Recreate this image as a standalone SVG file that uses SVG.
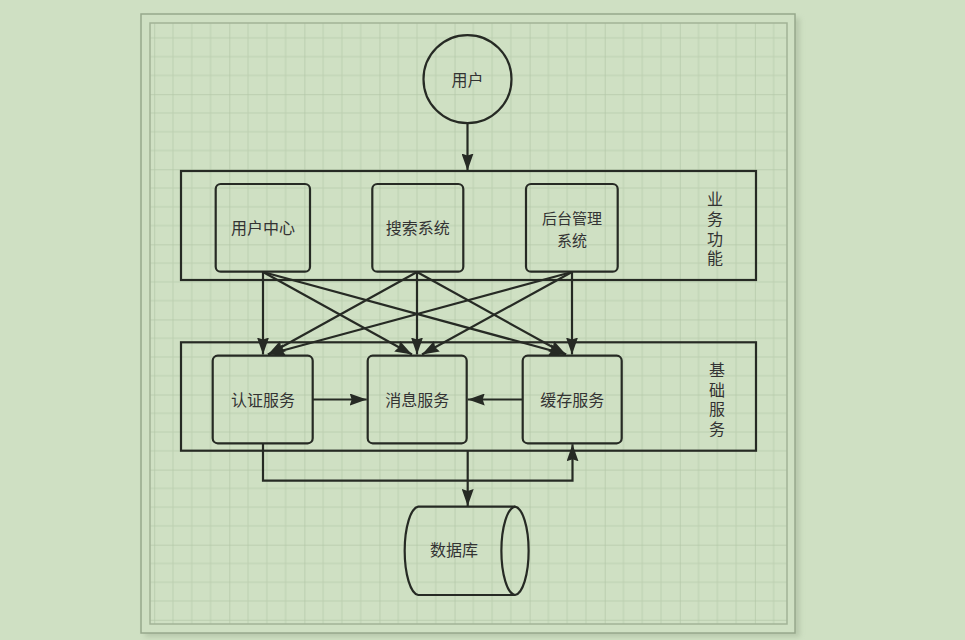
<svg xmlns="http://www.w3.org/2000/svg" width="965" height="640" viewBox="0 0 965 640">
<style>
.box{fill:none;stroke:#262a24;stroke-width:2.2}
.cont{fill:none;stroke:#262a24;stroke-width:2.2}
.edge{fill:none;stroke:#262a24;stroke-width:2.2}
.lbl{font-family:"Noto Sans CJK SC","Noto Sans",sans-serif;font-size:16px;fill:#333;text-anchor:middle}
.vlbl{font-family:"Noto Sans CJK SC","Noto Sans",sans-serif;font-size:16px;fill:#333;text-anchor:start;writing-mode:vertical-rl;letter-spacing:3.7px}
</style>
<defs>
<marker id="arr" markerUnits="userSpaceOnUse" viewBox="0 0 17 12" markerWidth="17" markerHeight="12" refX="17" refY="6" orient="auto">
<path d="M0,0 L17,6 L0,12 L2,6 Z" fill="#262a24"/>
</marker>
<pattern id="grid" patternUnits="userSpaceOnUse" x="229.3" y="94.2" width="75.08" height="75.08">
<rect x="18.27" y="0" width="1" height="75.08" fill="#bccfb0"/>
<rect x="37.04" y="0" width="1" height="75.08" fill="#bccfb0"/>
<rect x="55.81" y="0" width="1" height="75.08" fill="#bccfb0"/>
<rect x="0" y="18.27" width="75.08" height="1" fill="#bccfb0"/>
<rect x="0" y="37.04" width="75.08" height="1" fill="#bccfb0"/>
<rect x="0" y="55.81" width="75.08" height="1" fill="#bccfb0"/>
<rect x="-0.5" y="0" width="1.2" height="75.08" fill="#b3c7a7"/>
<rect x="0" y="-0.5" width="75.08" height="1.2" fill="#b3c7a7"/>
</pattern>
<filter id="sh" x="-5%" y="-5%" width="110%" height="110%"><feGaussianBlur stdDeviation="2.5"/></filter>
</defs>
<rect x="0" y="0" width="965" height="640" fill="#cfe0c3"/>
<g id="paper">
<rect x="145" y="18" width="655" height="619" fill="#a9ba9e" opacity="0.6" filter="url(#sh)"/>
<rect x="141" y="14" width="654" height="619" fill="#cfe0c3" stroke="#97a88c" stroke-width="1.5"/>
<rect x="150" y="23" width="637" height="601" fill="url(#grid)" stroke="#a2b397" stroke-width="1.5"/>
</g>
<g id="user">
<circle cx="467.5" cy="79.2" r="44" class="box"/>
<text class="lbl" x="467.5" y="85.5">用户</text>
</g>
<g id="biz-container">
<rect x="181" y="171" width="575" height="109" class="cont"/>
<text class="vlbl" x="715" y="191.3">业务功能</text>
</g>
<g id="user-center">
<rect x="215.7" y="184" width="94.3" height="87.7" rx="5" class="box"/>
<text class="lbl" x="263" y="233.8">用户中心</text>
</g>
<g id="search">
<rect x="372.3" y="184" width="91" height="87.7" rx="5" class="box"/>
<text class="lbl" x="417.8" y="233.8">搜索系统</text>
</g>
<g id="admin">
<rect x="526" y="184" width="91.7" height="87.7" rx="5" class="box"/>
<text class="lbl" style="font-size:15px"><tspan x="572" y="223.8">后台管理</tspan><tspan x="572" y="245.6">系统</tspan></text>
</g>
<g id="base-container">
<rect x="181" y="342.3" width="575" height="108.4" class="cont"/>
<text class="vlbl" x="717" y="362">基础服务</text>
</g>
<g id="auth">
<rect x="212.7" y="355.7" width="100" height="87.6" rx="5" class="box"/>
<text class="lbl" x="263" y="405.5">认证服务</text>
</g>
<g id="msg">
<rect x="367.7" y="355.7" width="99" height="87.6" rx="5" class="box"/>
<text class="lbl" x="417.2" y="405.5">消息服务</text>
</g>
<g id="cache">
<rect x="522.7" y="355.7" width="99" height="87.6" rx="5" class="box"/>
<text class="lbl" x="572.2" y="405.5">缓存服务</text>
</g>
<g id="database">
<path d="M418.3,506.7 L515,506.7 A14.3,44.2 0 0 1 515,595 L418.3,595 A14.3,44.2 0 0 1 418.3,506.7 Z" class="box"/>
<path d="M515,506.7 A14.3,44.2 0 0 0 515,595" class="box"/>
<text class="lbl" x="454" y="556.3">数据库</text>
</g>
<g id="connectors" class="edge">
<path d="M467.5,123.3 V170.5" marker-end="url(#arr)"/>
<path d="M263,272 V354.5" marker-end="url(#arr)"/>
<path d="M417,272 V354.5" marker-end="url(#arr)"/>
<path d="M572,272 V354.5" marker-end="url(#arr)"/>
<path d="M263,272 L412,354.5" marker-end="url(#arr)"/>
<path d="M263,272 L566,354.5" marker-end="url(#arr)"/>
<path d="M417,272 L268,354.5" marker-end="url(#arr)"/>
<path d="M417,272 L566,354.5" marker-end="url(#arr)"/>
<path d="M572,272 L268,354.5" marker-end="url(#arr)"/>
<path d="M572,272 L422,354.5" marker-end="url(#arr)"/>
<path d="M312.7,399.5 H366.7" marker-end="url(#arr)"/>
<path d="M522.7,399.5 H467.7" marker-end="url(#arr)"/>
<path d="M263,443.3 V480.7 H572.5 V444.3" marker-end="url(#arr)"/>
<path d="M467.7,450.7 V506" marker-end="url(#arr)"/>
</g>
</svg>
